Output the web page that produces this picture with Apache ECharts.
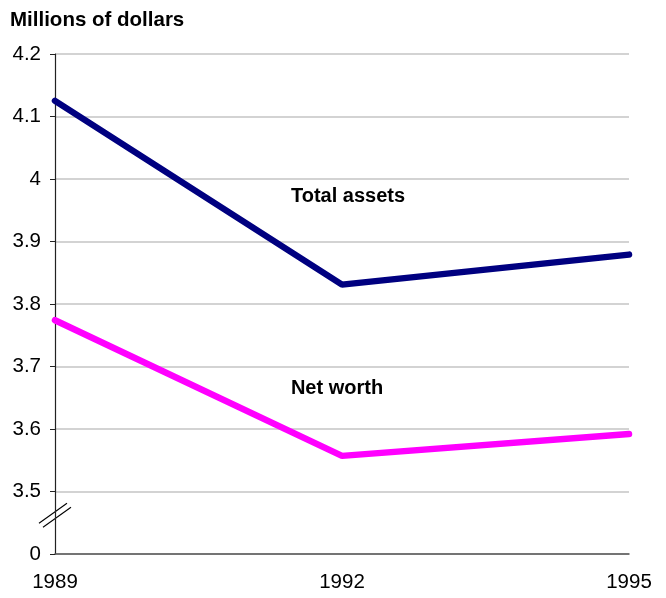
<!DOCTYPE html>
<html>
<head>
<meta charset="utf-8">
<script src="https://cdn.jsdelivr.net/npm/echarts@6/dist/echarts.min.js"></script>
<style>
  html, body { margin: 0; padding: 0; background: #fff; }
  #chart { width: 666px; height: 598px; }
</style>
</head>
<body>
<div id="chart"></div>
<script>
const years = ['1989', '1992', '1995']
const totalAssets = [4.125, 3.831, 3.879]
const netWorth = [3.774, 3.557, 3.592]
// the bottom tick stands for the broken-off part of the axis and reads 0
const axisMin = 3.4
const axisMax = 4.2
const axisStep = 0.1

const FONT = '"Liberation Sans", Arial, sans-serif'

const chart = echarts.init(document.getElementById('chart'))

const option = {
  animation: false,
  backgroundColor: '#fff',
  title: {
    text: 'Millions of dollars',
    left: 5,
    top: 5,
    textStyle: { fontFamily: FONT, fontSize: 20.5, fontWeight: 'bold', color: '#000' }
  },
  grid: { left: 55, right: 37, top: 54, bottom: 44 },
  xAxis: {
    type: 'category',
    data: years,
    boundaryGap: false,
    axisLine: { lineStyle: { color: '#555', width: 1.5 } },
    axisTick: { show: false },
    axisLabel: { margin: 18, fontFamily: FONT, fontSize: 20.5, color: '#000' },
    splitLine: { show: false }
  },
  yAxis: {
    type: 'value',
    min: axisMin,
    max: axisMax,
    interval: axisStep,
    axisLine: { show: true, lineStyle: { color: '#222', width: 1.2 } },
    axisTick: { show: true, length: 5, lineStyle: { color: '#222' } },
    axisLabel: {
      margin: 14,
      fontFamily: FONT,
      fontSize: 20.5,
      color: '#000',
      formatter: v => (v < axisMin + axisStep / 2 ? '0' : String(+v.toFixed(1)))
    },
    splitLine: { lineStyle: { color: '#c4c4c4', width: 1.5 } }
  },
  series: [
    {
      name: 'Total assets',
      type: 'line',
      data: totalAssets,
      symbol: 'none',
      lineStyle: { color: '#000080', width: 6.5, cap: 'round' }
    },
    {
      name: 'Net worth',
      type: 'line',
      data: netWorth,
      symbol: 'none',
      lineStyle: { color: '#ff00ff', width: 6.5, cap: 'round' }
    }
  ]
}
chart.setOption(option)

// series names sit above the 1992 point of each line
const seriesText = (name, values, dx, dy) => {
  const p = chart.convertToPixel({ gridIndex: 0 }, [1, values[1]])
  return {
    type: 'text',
    x: p[0] + dx,
    y: p[1] + dy,
    style: {
      text: name,
      fontFamily: FONT,
      fontSize: 20,
      fontWeight: 'bold',
      fill: '#000',
      align: 'center',
      verticalAlign: 'middle'
    }
  }
}

// axis break mark: two short slanted strokes across the y axis
const c = chart.convertToPixel({ gridIndex: 0 }, [0, 3.462])
const breakLine = (dx, dy) => ({
  type: 'line',
  shape: { x1: c[0] - 14 + dx, y1: c[1] + 10 + dy, x2: c[0] + 14 + dx, y2: c[1] - 10 + dy },
  style: { stroke: '#000', lineWidth: 1.1 }
})
chart.setOption({
  graphic: [
    seriesText('Total assets', totalAssets, 6, -88),
    seriesText('Net worth', netWorth, -5, -67),
    {
      type: 'rect',
      shape: { x: c[0] - 2, y: c[1] - 4, width: 4, height: 8 },
      style: { fill: '#fff' }
    },
    breakLine(-2, -2),
    breakLine(2, 2)
  ]
})
</script>
</body>
</html>
